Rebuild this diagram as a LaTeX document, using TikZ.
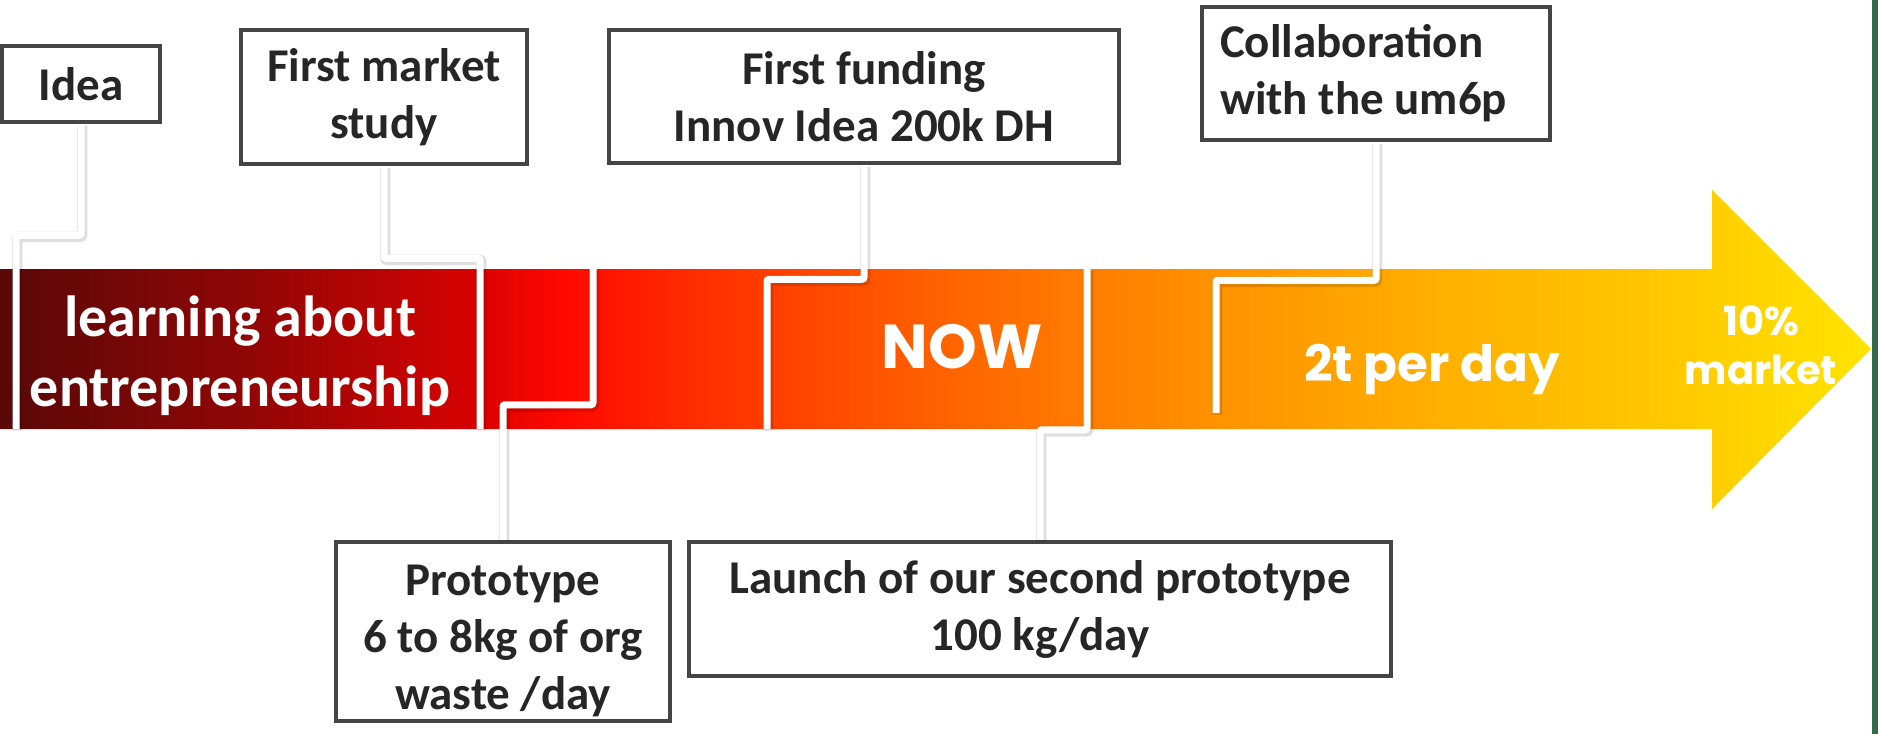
\documentclass[tikz,border=0pt]{standalone}
\usepackage{fontspec}
\setmainfont{Carlito}
\newfontfamily\geofont{Poppins}
\usepackage{tikz}
\definecolor{boxgray}{HTML}{454545}
\definecolor{textgray}{HTML}{262626}
\definecolor{slidegreen}{HTML}{336A4A}
\definecolor{tlA}{HTML}{5A0808}
\definecolor{tlB}{HTML}{8E0606}
\definecolor{tlC}{HTML}{D80202}
\definecolor{tlD}{HTML}{FF0800}
\definecolor{tlE}{HTML}{FF3300}
\definecolor{tlF}{HTML}{FF6600}
\definecolor{tlG}{HTML}{FF9000}
\definecolor{tlH}{HTML}{FFB000}
\definecolor{tlI}{HTML}{FFCC00}
\definecolor{tlJ}{HTML}{FFE400}
\pgfdeclarehorizontalshading{timeline}{100bp}{color(0bp)=(tlA); color(25bp)=(tlA);
    color(31.4bp)=(tlB); color(37.8bp)=(tlC); color(40bp)=(tlD); color(44.2bp)=(tlE);
    color(50.7bp)=(tlF); color(57.1bp)=(tlG); color(63.5bp)=(tlH); color(70.4bp)=(tlI);
    color(75bp)=(tlJ); color(100bp)=(tlJ)}
\tikzset{
    milestone/.style={draw=boxgray, line width=4.5pt, fill=white, text=textgray,
        align=center, inner sep=0pt, font=\bfseries\fontsize{47}{57}\selectfont},
    leader/.style={draw=white, line width=7pt, rounded corners=2pt,
        preaction={draw=black, draw opacity=0.13, line width=10.5pt,
        transform canvas={shift={(1.2pt,-1.5pt)}}}},
    bandtext/.style={text=white, align=center, inner sep=0pt},
}

\begin{document}
\begin{tikzpicture}[x=1pt, y=-1pt]
		\useasboundingbox (0,0) rectangle (1878,734);
		\fill[slidegreen] (1872,0) rectangle (1878,734);
		\path[shading=timeline] (0,269) -- (1712,269) -- (1712,190) -- (1871,349)
			-- (1712,509) -- (1712,429) -- (0,429) -- cycle;
		\coordinate (c1) at (16,429);
		\coordinate (c2) at (480,429);
		\coordinate (c3) at (593,269);
		\coordinate (c4) at (767,429);
		\coordinate (c5) at (1087,269);
		\coordinate (c6) at (1216,413);
		\node[milestone, minimum width=158pt, minimum height=76pt] (idea) at (81,84) {Idea};
		\node[milestone, minimum width=286pt, minimum height=134pt] (market) at (384,97) {First market\\study};
		\node[milestone, minimum width=510pt, minimum height=133pt] (funding) at (864,96.5) {First funding\\Innov Idea 200k DH};
		\node[milestone, minimum width=348pt, minimum height=133pt, text width=312pt, align=flush left] (collab) at (1376,73.5) {Collaboration\\with the um6p};
		\node[milestone, minimum width=334pt, minimum height=179pt] (proto) at (503,631.5) {\rule{0pt}{50pt}Prototype\\6 to 8kg of org\\waste /day};
		\node[milestone, minimum width=702pt, minimum height=134pt] (launch) at (1040,609) {Launch of our second prototype\\100 kg/day};
		\draw[leader] (idea.south) -- ++(0,111) -| (c1);
		\draw[leader] (market.south) -- ++(0,92) -| (c2);
		\draw[leader] (proto.north) -- ++(0,-135) -| (c3);
		\draw[leader] (funding.south) -- ++(0,114) -| (c4);
		\draw[leader] (launch.north) -- ++(0,-110) -| (c5);
		\draw[leader] (collab.south) -- ++(0,138) -| (c6);
		\node[bandtext, font=\bfseries\fontsize{58}{70}\selectfont] (learn) at (240,356) {learning about\\entrepreneurship};
		\node[bandtext, font=\geofont\bfseries\fontsize{62}{70}\selectfont, anchor=base] (now) at (962,368) {NOW};
		\node[bandtext, font=\geofont\bfseries\fontsize{50}{60}\selectfont, anchor=base] (rate) at (1432,381) {2t per day};
		\node[bandtext, font=\geofont\bfseries\fontsize{40}{49}\selectfont] (share) at (1761,345) {10\%\\market};
\end{tikzpicture}
\end{document}
